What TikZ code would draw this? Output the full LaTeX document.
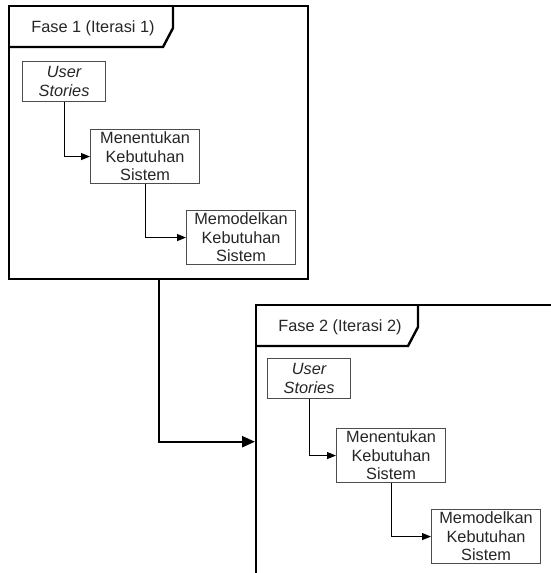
\documentclass[tikz,border=0pt]{standalone}
\usepackage{fontspec}
\setmainfont{Liberation Sans}
\usetikzlibrary{arrows.meta}
\begin{document}
\begin{tikzpicture}[x=1pt,y=-1pt,
  frame/.style={draw=black,line width=2.4pt,rectangle,minimum width=299pt,minimum height=273pt,anchor=north west,inner sep=0pt},
  tab/.style={draw=black,line width=2.4pt,line join=miter},
  box/.style={draw=black!70,line width=1.1pt,rectangle,minimum width=109pt,minimum height=54pt,anchor=north west,align=center,inner sep=0pt,font=\fontsize{16.3}{18.5}\selectfont,text=black!85},
  usbox/.style={box,minimum width=83pt,minimum height=40pt,font=\fontsize{16.3}{18.5}\selectfont\itshape},
  title/.style={font=\fontsize{16.3}{18.5}\selectfont,text=black!85,inner sep=0pt},
  conn/.style={draw=black,line width=1.1pt,-{Triangle[length=9pt,width=7pt]}},
  bigconn/.style={draw=black,line width=2.4pt,-{Triangle[length=13pt,width=11pt]}}
]
\useasboundingbox (0,0) rectangle (551,573);
\fill[white] (0,0) rectangle (551,573);
\clip (0,0) rectangle (551,573);
% Phase 1
\node[frame] (f1) at (8,5) {};
\draw[tab] (8,47) -- (163,47) -- (173,28) -- (173,5);
\node[title] (t1) at (93,28) {Fase 1 (Iterasi 1)};
\node[usbox] (us1) at (22,61) {User\\Stories};
\node[box] (mn1) at (90,129) {Menentukan\\Kebutuhan\\Sistem};
\node[box] (md1) at (186,210) {Memodelkan\\Kebutuhan\\Sistem};
\draw[conn] (us1.south) |- (mn1.west);
\draw[conn] (mn1.south) |- (md1.west);
% Phase 2
\node[frame] (f2) at (255,304) {};
\draw[tab] (255,346) -- (408,346) -- (418,327) -- (418,304);
\node[title] (t2) at (340,327) {Fase 2 (Iterasi 2)};
\node[usbox] (us2) at (267,358) {User\\Stories};
\node[box] (mn2) at (336,428) {Menentukan\\Kebutuhan\\Sistem};
\node[box] (md2) at (431,509) {Memodelkan\\Kebutuhan\\Sistem};
\draw[conn] (us2.south) |- (mn2.west);
\draw[conn] (mn2.south) |- (md2.west);
% between phases
\draw[bigconn] (f1.south) |- (f2.west);
\end{tikzpicture}
\end{document}
